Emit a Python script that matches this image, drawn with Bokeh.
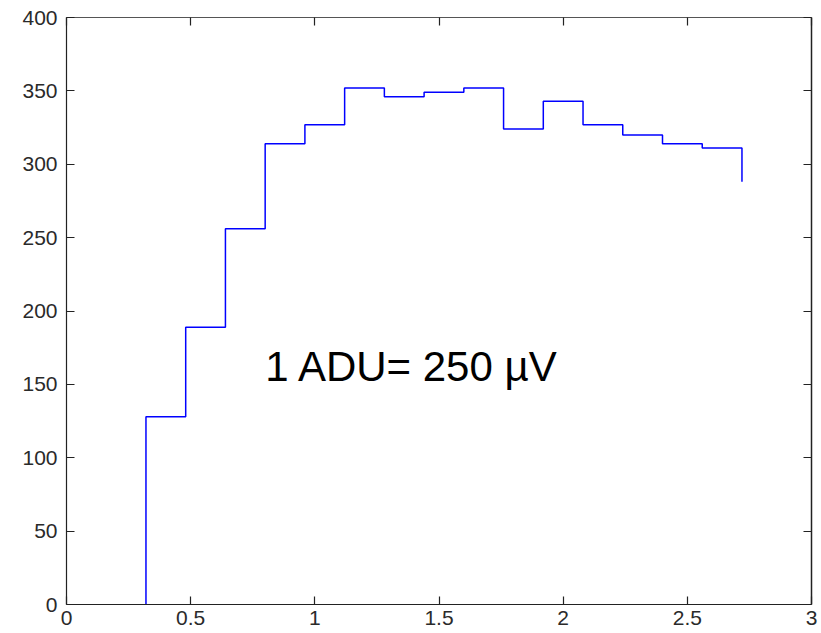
from bokeh.plotting import figure
from bokeh.models import LinearAxis, FixedTicker, Range1d, ColumnDataSource
from bokeh.core.properties import value
from bokeh.embed import file_html
from bokeh.resources import INLINE

# ---- data ----
step_x = [0.32, 0.32, 0.48, 0.64, 0.80, 0.96, 1.12, 1.28, 1.44, 1.60,
          1.76, 1.92, 2.08, 2.24, 2.40, 2.56, 2.72]
step_y = [0, 128, 189, 256, 314, 327, 352, 346, 349, 352,
          324, 343, 327, 320, 314, 311, 288]

x_ticks = [0, 0.5, 1, 1.5, 2, 2.5, 3]
x_tick_labels = ["0", "0.5", "1", "1.5", "2", "2.5", "3"]
y_ticks = [0, 50, 100, 150, 200, 250, 300, 350, 400]
y_tick_labels = ["0", "50", "100", "150", "200", "250", "300", "350", "400"]

note_text = ["1 ADU= 250 \u00b5V"]
note_x = [0.8]
note_y = [162]

FONT = "Liberation Sans"
LABEL_COLOR = "#2a2a2a"

p = figure(width=821, height=633, output_backend="svg", toolbar_location=None,
           x_range=Range1d(0, 3), y_range=Range1d(0, 400),
           min_border_left=66, min_border_right=10, min_border_top=17,
           min_border_bottom=29)
p.background_fill_color = "white"
p.border_fill_color = "white"
p.outline_line_color = None
p.xgrid.visible = False
p.ygrid.visible = False

src = ColumnDataSource(dict(x=step_x, y=step_y))
p.step("x", "y", source=src, mode="after", line_color="#0000ff", line_width=1.5)

p.text(x=note_x, y=note_y, text=note_text, text_font=value(FONT),
       text_font_size="42px", text_color="black",
       text_align="left", text_baseline="alphabetic")


def style_axis(ax, ticks, labels, show_labels, standoff):
    ax.ticker = FixedTicker(ticks=ticks)
    ax.major_label_overrides = {t: l for t, l in zip(ticks, labels)}
    ax.axis_line_color = "#222222"
    ax.axis_line_width = 1.2
    ax.major_tick_line_color = "#222222"
    ax.major_tick_line_width = 1.2
    ax.major_tick_in = 8
    ax.major_tick_out = 0
    ax.minor_tick_in = 0
    ax.minor_tick_out = 0
    ax.major_label_standoff = standoff
    ax.major_label_text_font = FONT
    ax.major_label_text_color = LABEL_COLOR
    ax.major_label_text_font_size = "21px" if show_labels else "0px"
    ax.axis_label = None


style_axis(p.xaxis[0], x_ticks, x_tick_labels, True, 6)
style_axis(p.yaxis[0], y_ticks, y_tick_labels, True, 9)

top = LinearAxis()
style_axis(top, x_ticks, x_tick_labels, False, 0)
top.major_label_text_alpha = 0
top.axis_line_color = "#555555"
top.axis_line_width = 1
p.add_layout(top, "above")

right = LinearAxis()
style_axis(right, y_ticks, y_tick_labels, False, 0)
right.major_label_text_alpha = 0
right.axis_line_width = 1.5
p.add_layout(right, "right")

open("out.html", "w").write(file_html(p, INLINE))
